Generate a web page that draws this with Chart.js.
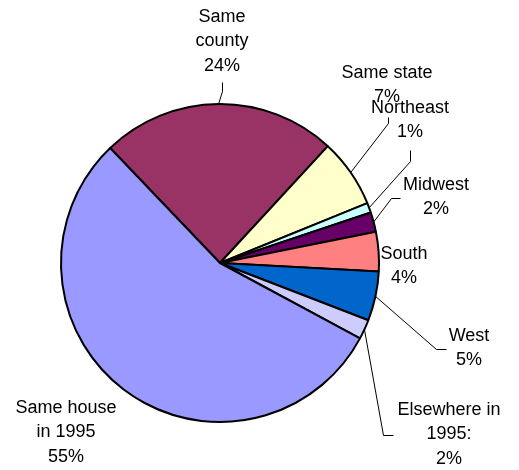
<!DOCTYPE html>
<html lang="en">
<head>
    <meta charset="UTF-8">
    <title>Residence in 1995</title>
    <script src="https://cdn.jsdelivr.net/npm/chart.js"></script>
    <style>
        body {
            margin: 0;
            background: #fff;
        }
        .wrap {
            position: relative;
            width: 519px;
            height: 470px;
        }
    </style>
</head>
<body>
    <div class="wrap"><canvas id="pieChart"></canvas></div>

    <script>
        // Where people lived in 1995 (percent)
        var categories = ['Same county', 'Same state', 'Northeast', 'Midwest', 'South', 'West', 'Elsewhere in 1995:', 'Same house in 1995'];
        var shares = [24, 7, 1, 2, 4, 5, 2, 55];
        var labelLines = [
            ['Same', 'county', '24%'],
            ['Same state', '7%'],
            ['Northeast', '1%'],
            ['Midwest', '2%'],
            ['South', '4%'],
            ['West', '5%'],
            ['Elsewhere in', '1995:', '2%'],
            ['Same house', 'in 1995', '55%']
        ];
        var colors = ['#993366', '#FFFFCC', '#CCFFFF', '#660066', '#FF8080', '#0066CC', '#CCCCFF', '#9999FF'];

        // label placement, offsets from the pie centre (text = first line centre, leader = elbow then end)
        var placement = [
            { text: [2, -246],   leader: [[2, -172], [2, -181]] },
            { text: [167, -190], leader: [[168, -140], [168, -146]] },
            { text: [190, -155], leader: [[190, -102], [190, -113]] },
            { text: [216, -78],  leader: [[171, -65], [180, -65]] },
            { text: [184, -9],   leader: null },
            { text: [249, 73],   leader: [[216, 86], [226, 86]] },
            { text: [229, 147],  leader: [[163, 172], [173, 172]] },
            { text: [-154, 145], leader: null }
        ];

        var sliceLabels = {
            id: 'sliceLabels',
            afterDraw: function (chart) {
                var ctx = chart.ctx;
                var arcs = chart.getDatasetMeta(0).data;
                ctx.save();
                ctx.fillStyle = '#000';
                ctx.strokeStyle = '#000';
                ctx.lineWidth = 1;
                ctx.font = '18px "Liberation Sans", Arial, sans-serif';
                ctx.textAlign = 'center';
                ctx.textBaseline = 'middle';
                arcs.forEach(function (arc, i) {
                    var p = arc.getProps(['x', 'y', 'startAngle', 'endAngle', 'outerRadius'], true);
                    var cx = p.x, cy = p.y;
                    var place = placement[i];
                    if (place.leader) {
                        var mid = (p.startAngle + p.endAngle) / 2;
                        ctx.beginPath();
                        ctx.moveTo(cx + Math.cos(mid) * p.outerRadius, cy + Math.sin(mid) * p.outerRadius);
                        place.leader.forEach(function (pt) {
                            ctx.lineTo(cx + pt[0] + 0.5, cy + pt[1] + 0.5);
                        });
                        ctx.stroke();
                    }
                    labelLines[i].forEach(function (line, k) {
                        ctx.fillText(line, cx + place.text[0], cy + place.text[1] + k * 24.5);
                    });
                });
                ctx.restore();
            }
        };

        var ctx = document.getElementById('pieChart').getContext('2d');
        var pieChart = new Chart(ctx, {
            type: 'pie',
            data: {
                labels: categories,
                datasets: [{
                    data: shares,
                    backgroundColor: colors,
                    borderColor: '#000',
                    borderWidth: 2
                }]
            },
            options: {
                responsive: true,
                maintainAspectRatio: false,
                animation: false,
                rotation: -43.7,
                layout: {
                    padding: { top: 103, bottom: 47, left: 60, right: 139 }
                },
                plugins: {
                    legend: { display: false },
                    tooltip: { enabled: false }
                }
            },
            plugins: [sliceLabels]
        });
    </script>
</body>
</html>
